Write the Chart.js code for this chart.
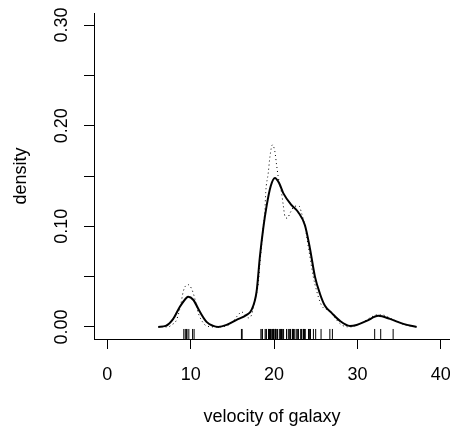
<!DOCTYPE html>
<html>
<head>
<meta charset="utf-8">
<script src="https://cdn.jsdelivr.net/npm/chart.js@4.4.0/dist/chart.umd.min.js"></script>
<style>
  html, body { margin: 0; padding: 0; background: #fff; }
  #wrap { width: 450px; height: 428px; }
</style>
</head>
<body>
<div id="wrap"><canvas id="chart" width="450" height="428"></canvas></div>
<script>
// galaxy velocities (1000 km/s), shown as the rug
const velocity = [
  9.172, 9.350, 9.483, 9.558, 9.775, 10.227, 10.406, 16.084, 16.170, 18.419,
  18.552, 18.600, 18.927, 19.052, 19.070, 19.330, 19.343, 19.349, 19.440, 19.473,
  19.529, 19.541, 19.547, 19.663, 19.846, 19.856, 19.863, 19.914, 19.918, 19.973,
  19.989, 20.166, 20.175, 20.179, 20.196, 20.215, 20.221, 20.415, 20.629, 20.795,
  20.821, 20.846, 20.875, 20.986, 21.137, 21.492, 21.701, 21.814, 21.921, 21.960,
  22.185, 22.209, 22.242, 22.249, 22.314, 22.374, 22.495, 22.746, 22.747, 22.888,
  22.914, 23.206, 23.241, 23.263, 23.484, 23.538, 23.542, 23.666, 23.706, 23.711,
  24.129, 24.285, 24.289, 24.366, 24.717, 24.990, 25.633, 26.690, 26.995, 32.065,
  32.789, 34.279
];

// solid density curve
const solidX = [6.1, 7.0, 7.9, 8.7, 9.5, 9.7, 10.3, 11.1, 11.9, 12.7, 13.3, 14.3, 15.5, 16.7, 17.3,
  17.9, 18.3, 18.7, 19.1, 19.6, 20.1, 20.6, 21.1, 22.1, 22.9, 23.7, 24.3, 24.9, 25.5,
  26.1, 26.9, 27.9, 29.1, 29.9, 31.1, 32.5, 33.9, 35.5, 37.1];
const solidY = [0.000, 0.001, 0.008, 0.020, 0.029, 0.030, 0.027, 0.015, 0.005, 0.001, 0.000, 0.002, 0.007, 0.012, 0.017,
  0.035, 0.070, 0.098, 0.120, 0.140, 0.148, 0.143, 0.133, 0.121, 0.114, 0.101, 0.078, 0.050, 0.033,
  0.021, 0.014, 0.006, 0.001, 0.002, 0.006, 0.011, 0.008, 0.003, 0.000];

// dotted density curve
const dottedX = [6.5, 7.3, 7.7, 8.3, 8.8, 9.1, 9.4, 9.7, 10.1, 10.5, 10.9, 11.5, 11.9, 12.9, 14.3,
  15.1, 15.7, 16.1, 16.5, 16.9, 17.3, 17.7, 18.1, 18.3, 18.5, 18.7, 18.9, 19.0, 19.3,
  19.5, 19.8, 20.1, 20.3, 20.5, 20.9, 21.1, 21.3, 21.6, 21.9, 22.5, 23.0, 23.3, 23.7,
  24.1, 24.7, 25.1, 25.5, 25.9, 26.5, 26.9, 27.5, 28.1, 29.1, 30.5, 31.5, 32.3, 32.9,
  34.1, 35.7, 37.1];
const dottedY = [0.000, 0.000, 0.002, 0.007, 0.022, 0.035, 0.041, 0.042, 0.038, 0.028, 0.014, 0.004, 0.001, 0.000, 0.001,
  0.006, 0.012, 0.015, 0.012, 0.009, 0.012, 0.027, 0.043, 0.063, 0.081, 0.100, 0.116, 0.134, 0.153,
  0.169, 0.181, 0.174, 0.161, 0.149, 0.133, 0.121, 0.110, 0.108, 0.113, 0.120, 0.120, 0.113, 0.100,
  0.080, 0.050, 0.036, 0.025, 0.019, 0.017, 0.014, 0.007, 0.002, 0.000, 0.004, 0.009, 0.012, 0.012,
  0.008, 0.002, 0.000];

const xTicks = [0, 10, 20, 30, 40];
const yTicks = [0, 0.05, 0.10, 0.15, 0.20, 0.25, 0.30];
const yLabelled = [0, 0.10, 0.20, 0.30];

const rugY = -0.007;
const font = { family: "'Liberation Sans', Arial, sans-serif", size: 18 };

function pts(xs, ys) {
  return xs.map((x, i) => ({ x: x, y: ys[i] }));
}

const ctx = document.getElementById("chart").getContext("2d");

new Chart(ctx, {
  type: "scatter",
  data: {
    datasets: [
      {
        data: pts(solidX, solidY),
        showLine: true,
        borderColor: "#000",
        borderWidth: 2,
        pointRadius: 0,
        cubicInterpolationMode: "monotone",
      },
      {
        data: pts(dottedX, dottedY),
        showLine: true,
        borderColor: "#000",
        borderWidth: 1,
        borderDash: [1, 3],
        pointRadius: 0,
        cubicInterpolationMode: "monotone",
      },
      {
        data: velocity.map(v => ({ x: v, y: rugY })),
        showLine: false,
        pointStyle: "line",
        rotation: 90,
        pointRadius: 5,
        borderColor: "#000",
        borderWidth: 1,
      },
    ],
  },
  options: {
    responsive: false,
    animation: false,
    events: [],
    layout: { autoPadding: false, padding: { top: 13, left: 0, right: 0, bottom: 0 } },
    plugins: {
      legend: { display: false },
      tooltip: { enabled: false },
    },
    scales: {
      x: {
        type: "linear",
        min: -1.6,
        max: 41.1,
        afterBuildTicks: s => { s.ticks = xTicks.map(v => ({ value: v })); },
        afterFit: s => { s.height = 89; s.paddingLeft = 0; s.paddingRight = 0; },
        grid: { drawOnChartArea: false, drawTicks: true, tickLength: 10, color: "#000", lineWidth: 1 },
        border: { display: true, color: "#000", width: 1 },
        ticks: { color: "#000", font: font, padding: 15, maxRotation: 0, minRotation: 0,
          callback: v => String(v) },
        title: { display: true, text: "velocity of galaxy", color: "#000", font: font,
          padding: { top: 0, bottom: 0 } },
      },
      y: {
        type: "linear",
        min: -0.012,
        max: 0.312,
        afterBuildTicks: s => { s.ticks = yTicks.map(v => ({ value: v })); },
        afterFit: s => { s.width = 94; s.paddingTop = 0; s.paddingBottom = 0; },
        grid: { drawOnChartArea: false, drawTicks: true, tickLength: 10, color: "#000", lineWidth: 1 },
        border: { display: true, color: "#000", width: 1 },
        ticks: { color: "#000", font: font, padding: 4, minRotation: 90, maxRotation: 90,
          crossAlign: "center",
          callback: v => yLabelled.some(t => Math.abs(t - v) < 1e-9) ? v.toFixed(2) : "" },
        title: { display: true, text: "density", color: "#000", font: font,
          padding: { top: 10, bottom: 0 } },
      },
    },
  },
});
</script>
</body>
</html>
